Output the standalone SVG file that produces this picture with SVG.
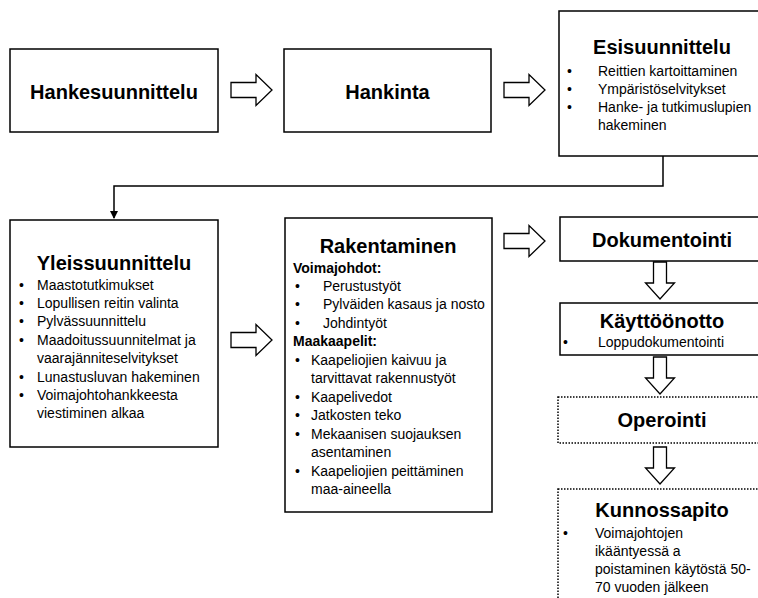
<svg xmlns="http://www.w3.org/2000/svg" width="758" height="598" viewBox="0 0 758 598">
<style>
.box{fill:#fff;stroke:#000;stroke-width:1.5}
.dot{fill:#fff;stroke:#000;stroke-width:1.5;stroke-dasharray:1.5 1.5}
.arr{fill:#fff;stroke:#000;stroke-width:1.3;stroke-linejoin:miter}
.t{font-family:"Liberation Sans",Arial,sans-serif;font-weight:bold;font-size:20px;text-anchor:middle;fill:#000}
.s{font-family:"Liberation Sans",Arial,sans-serif;font-size:14px;fill:#000}
.b{font-family:"Liberation Sans",Arial,sans-serif;font-size:14px;font-weight:bold;fill:#000}
.line{fill:none;stroke:#000;stroke-width:1.5}
</style>
<defs>
<marker id="ah" markerWidth="8" markerHeight="8" refX="7" refY="4" orient="auto" markerUnits="userSpaceOnUse">
<path d="M0,0 L8,4 L0,8 z" fill="#000"/>
</marker>
<polygon id="ra" points="0,-7.5 25,-7.5 25,-15.5 41,0 25,15.5 25,7.5 0,7.5"/>
<polygon id="da" points="-6.5,0 6.5,0 6.5,21 14.5,21 0,37 -14.5,21 -6.5,21"/>
</defs>
<g id="connectors">
<polyline class="line" points="663,156 663,186 114,186 114,218" marker-end="url(#ah)"/>
<use href="#ra" x="231" y="90" class="arr"/>
<use href="#ra" x="504" y="90" class="arr"/>
<use href="#ra" x="231" y="340" class="arr"/>
<use href="#ra" x="504" y="241" class="arr"/>
<use href="#da" x="660" y="262" class="arr"/>
<use href="#da" x="660" y="357" class="arr"/>
<use href="#da" x="660" y="447" class="arr"/>
</g>
<g id="hankesuunnittelu">
<rect class="box" x="10" y="49" width="208" height="83"/>
<text class="t" x="114" y="99">Hankesuunnittelu</text>
</g>
<g id="hankinta">
<rect class="box" x="284" y="49" width="207" height="83"/>
<text class="t" x="387.5" y="99">Hankinta</text>
</g>
<g id="esisuunnittelu">
<rect class="box" x="559" y="11" width="220" height="145"/>
<text class="t" x="662" y="54">Esisuunnittelu</text>
<text class="s" x="567" y="76">•</text><text class="s" x="598" y="76">Reittien kartoittaminen</text>
<text class="s" x="567" y="94">•</text><text class="s" x="598" y="94">Ympäristöselvitykset</text>
<text class="s" x="567" y="112">•</text><text class="s" x="598" y="112">Hanke- ja tutkimuslupien</text>
<text class="s" x="598" y="130">hakeminen</text>
</g>
<g id="yleissuunnittelu">
<rect class="box" x="10" y="220" width="208" height="227"/>
<text class="t" x="114" y="270">Yleissuunnittelu</text>
<text class="s" x="19" y="290">•</text><text class="s" x="37" y="290">Maastotutkimukset</text>
<text class="s" x="19" y="308">•</text><text class="s" x="37" y="308">Lopullisen reitin valinta</text>
<text class="s" x="19" y="326">•</text><text class="s" x="37" y="326">Pylvässuunnittelu</text>
<text class="s" x="19" y="345">•</text><text class="s" x="37" y="345">Maadoitussuunnitelmat ja</text>
<text class="s" x="37" y="363">vaarajänniteselvitykset</text>
<text class="s" x="19" y="382">•</text><text class="s" x="37" y="382">Lunastusluvan hakeminen</text>
<text class="s" x="19" y="400">•</text><text class="s" x="37" y="400">Voimajohtohankkeesta</text>
<text class="s" x="37" y="418">viestiminen alkaa</text>
</g>
<g id="rakentaminen">
<rect class="box" x="285" y="218" width="207" height="294"/>
<text class="t" x="388" y="253">Rakentaminen</text>
<text class="b" x="293" y="273">Voimajohdot:</text>
<text class="s" x="295" y="291">•</text><text class="s" x="323" y="291">Perustustyöt</text>
<text class="s" x="295" y="309">•</text><text class="s" x="323" y="309">Pylväiden kasaus ja nosto</text>
<text class="s" x="295" y="328">•</text><text class="s" x="323" y="328">Johdintyöt</text>
<text class="b" x="293" y="346">Maakaapelit:</text>
<text class="s" x="295" y="365">•</text><text class="s" x="311" y="365">Kaapeliojien kaivuu ja</text>
<text class="s" x="311" y="383">tarvittavat rakennustyöt</text>
<text class="s" x="295" y="402">•</text><text class="s" x="311" y="402">Kaapelivedot</text>
<text class="s" x="295" y="420">•</text><text class="s" x="311" y="420">Jatkosten teko</text>
<text class="s" x="295" y="439">•</text><text class="s" x="311" y="439">Mekaanisen suojauksen</text>
<text class="s" x="311" y="457">asentaminen</text>
<text class="s" x="295" y="476">•</text><text class="s" x="311" y="476">Kaapeliojien peittäminen</text>
<text class="s" x="311" y="494">maa-aineella</text>
</g>
<g id="dokumentointi">
<rect class="box" x="560" y="217" width="220" height="44"/>
<text class="t" x="662" y="247">Dokumentointi</text>
</g>
<g id="kayttoonotto">
<rect class="box" x="560" y="303" width="220" height="52"/>
<text class="t" x="662" y="328">Käyttöönotto</text>
<text class="s" x="563" y="347">•</text><text class="s" x="598" y="347">Loppudokumentointi</text>
</g>
<g id="operointi">
<rect class="dot" x="558" y="397" width="220" height="46"/>
<text class="t" x="662" y="427">Operointi</text>
</g>
<g id="kunnossapito">
<rect class="dot" x="558" y="489" width="220" height="130"/>
<text class="t" x="662" y="517">Kunnossapito</text>
<text class="s" x="563" y="538">•</text><text class="s" x="595" y="538">Voimajohtojen</text>
<text class="s" x="595" y="556">ikääntyessä a</text>
<text class="s" x="595" y="574">poistaminen käytöstä 50-</text>
<text class="s" x="595" y="592">70 vuoden jälkeen</text>
</g>
</svg>
